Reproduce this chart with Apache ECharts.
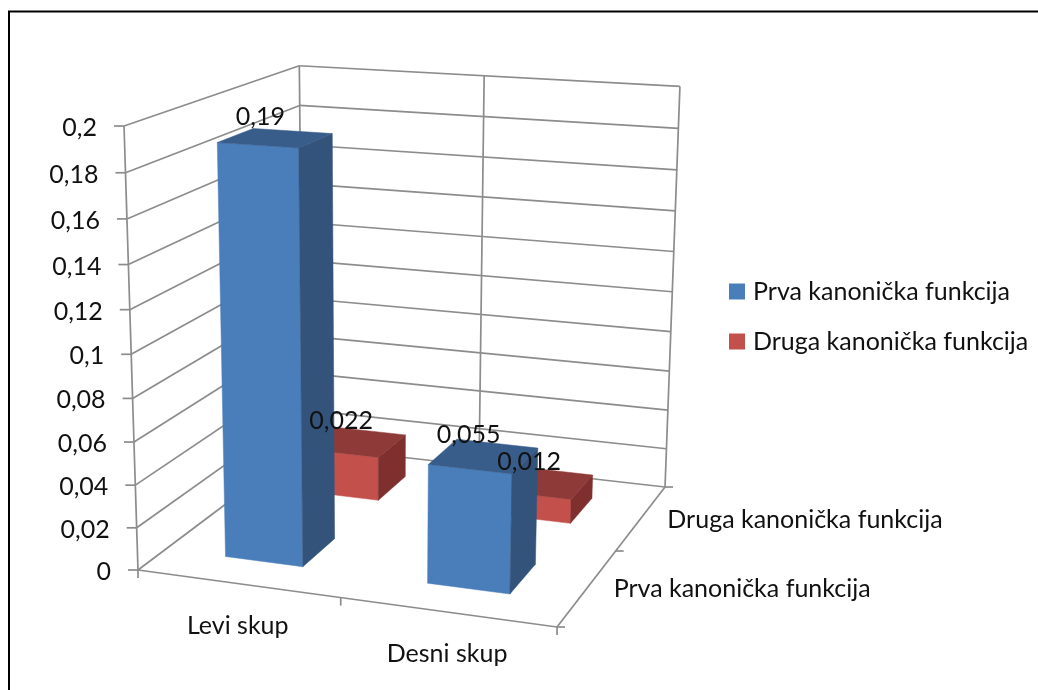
<!DOCTYPE html>
<html>
<head>
<meta charset="utf-8">
<title>Kanoničke funkcije</title>
<style>
	html, body { margin: 0; padding: 0; background: #fff; }
	#chart { width: 1038px; height: 690px; }
</style>
<script src="https://cdn.jsdelivr.net/npm/echarts@6/dist/echarts.min.js"></script>
</head>
<body>
<div id="chart"></div>
<script>
var categories = ['Levi skup', 'Desni skup'];
var seriesNames = ['Prva kanonička funkcija', 'Druga kanonička funkcija'];
var prvaValues = [0.19, 0.055];
var drugaValues = [0.022, 0.012];
var yTicks = [0, 0.02, 0.04, 0.06, 0.08, 0.1, 0.12, 0.14, 0.16, 0.18, 0.2];

var FONT = 'Lato, "Open Sans", sans-serif';
var GRID_COLOR = '#8c8c8c';
var BAR_SHARE = 0.39;    // bar width as a share of its category
var BAR_DEPTH = 0.2;     // bar depth as a share of the floor

// the hidden grid is only a scale: its box stands for the unit cube
var box = { left: 100, top: 100, width: 400, height: 400 };

// perspective camera read off the wall and floor corners of the picture
// u: along the categories, v: into the depth, h: up the value axis
function project(u, v, h) {
	var w = 1 - 0.0627 * u + 0.1762 * v - 0.055 * h;
	return [
		(384.1 * u + 218.4 * v + 138 - 20.8 * h) / w,
		(17.7 * u - 45.4 * v + 570 - 450.9 * h) / w
	];
}

function toU(x) { return (x - box.left) / box.width; }
function toH(y) { return (box.top + box.height - y) / box.height; }
function depthOf(i) { return (i + 0.5) / seriesNames.length; }
function comma(val) { return String(val).replace('.', ','); }

function line(a, b) {
	return {
		type: 'line',
		shape: { x1: a[0], y1: a[1], x2: b[0], y2: b[1] },
		style: { stroke: GRID_COLOR, lineWidth: 1.7 }
	};
}

function face(points, color) {
	return {
		type: 'polygon',
		shape: { points: points },
		style: { fill: color, stroke: color, lineWidth: 0.5 }
	};
}

function label(text, x, y, align) {
	return {
		type: 'text',
		style: {
			text: text, x: x, y: y, align: align, verticalAlign: 'middle',
			fill: '#111', font: '25px ' + FONT
		}
	};
}

// walls, floor, ticks and axis labels
function renderFrame(params, api) {
	var h = toH(api.coord([0, api.value(1)])[1]);
	var left = project(0, 0, h), back = project(0, 1, h), right = project(1, 1, h);
	var children = [
		line(left, back),
		line(back, right),
		line([left[0] - 10, left[1]], left),
		label(comma(api.value(1)), left[0] - 27, left[1] + 2, 'right')
	];
	if (params.dataIndex === 0) {
		children.push(
			line(project(0, 0, 0), project(0, 0, 1)),
			line(project(0, 1, 0), project(0, 1, 1)),
			line(project(1, 1, 0), project(1, 1, 1)),
			line(project(0.5, 1, 0), project(0.5, 1, 1)),
			line(project(0, 0, 0), project(1, 0, 0)),
			line(project(1, 0, 0), project(1, 1, 0))
		);
		// tick marks on the floor edges
		[0, 0.5, 1].forEach(function (t) {
			var a = project(t, 0, 0);
			children.push(line(a, [a[0], a[1] + 8]));
			var b = project(1, t, 0);
			children.push(line(b, [b[0] + 8, b[1]]));
		});
		categories.forEach(function (name, i) {
			var p = project((i + 0.5) / categories.length, 0, 0);
			children.push(label(name, p[0], p[1] + 42, 'center'));
		});
		seriesNames.forEach(function (name, i) {
			var p = project(1, depthOf(i), 0);
			children.push(label(name, p[0] + 26, p[1] + 2, 'left'));
		});
	}
	return { type: 'group', children: children };
}

function renderBar(depth, colors) {
	return function (params, api) {
		var top = api.coord([api.value(0), api.value(1)]);
		var half = api.size([1, 0])[0] * BAR_SHARE / 2 / box.width;
		var u = toU(top[0]), h = toH(top[1]);
		var u0 = u - half, u1 = u + half;
		var v0 = depth - BAR_DEPTH / 2, v1 = depth + BAR_DEPTH / 2;
		return {
			type: 'group',
			children: [
				face([project(u0, v0, 0), project(u1, v0, 0), project(u1, v0, h), project(u0, v0, h)], colors[0]),
				face([project(u1, v0, 0), project(u1, v1, 0), project(u1, v1, h), project(u1, v0, h)], colors[1]),
				face([project(u0, v0, h), project(u1, v0, h), project(u1, v1, h), project(u0, v1, h)], colors[2])
			]
		};
	};
}

function renderValue(depth) {
	return function (params, api) {
		var top = api.coord([api.value(0), api.value(1)]);
		var p = project(toU(top[0]), depth, toH(top[1]));
		return label(comma(api.value(1)), p[0] - 15, p[1] - 21, 'center');
	};
}

function pairs(values) {
	return values.map(function (val, i) { return [i, val]; });
}

function barSeries(name, values, depth, colors) {
	return {
		name: name,
		type: 'custom',
		z: 3,
		itemStyle: { color: colors[0] },
		renderItem: renderBar(depth, colors),
		data: pairs(values)
	};
}

function valueSeries(values, depth) {
	return {
		type: 'custom',
		z: 5,
		silent: true,
		renderItem: renderValue(depth),
		data: pairs(values)
	};
}

var chart = echarts.init(document.getElementById('chart'));
chart.setOption({
	animation: false,
	backgroundColor: '#fff',
	grid: box,
	xAxis: { type: 'category', data: categories, show: false },
	yAxis: { type: 'value', min: 0, max: 0.2, show: false },
	legend: {
		data: seriesNames,
		orient: 'vertical',
		left: 724,
		top: 274,
		icon: 'rect',
		itemWidth: 16,
		itemHeight: 16,
		itemGap: 25,
		textStyle: { fontFamily: FONT, fontSize: 25, color: '#111', padding: [0, 0, 0, 3] }
	},
	graphic: [
		{ type: 'line', shape: { x1: 8, y1: 11.5, x2: 1038, y2: 11.5 }, style: { stroke: '#000', lineWidth: 2 } },
		{ type: 'line', shape: { x1: 9, y1: 11, x2: 9, y2: 690 }, style: { stroke: '#000', lineWidth: 2 } }
	],
	series: [
		{
			type: 'custom',
			z: 1,
			silent: true,
			renderItem: renderFrame,
			data: yTicks.map(function (val) { return [0, val]; })
		},
		// the back row goes first so the front bars cover it
		barSeries(seriesNames[1], drugaValues, depthOf(1), ['#c4504c', '#7e2f2e', '#8e3a38']),
		barSeries(seriesNames[0], prvaValues, depthOf(0), ['#4a7ebb', '#34537b', '#385d8a']),
		valueSeries(drugaValues, depthOf(1)),
		valueSeries(prvaValues, depthOf(0))
	]
});
</script>
</body>
</html>
